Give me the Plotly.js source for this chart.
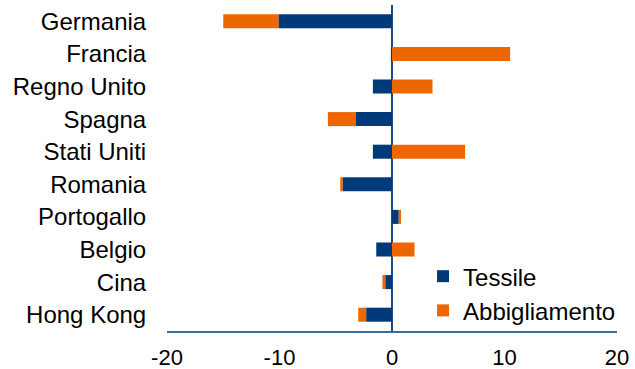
<!DOCTYPE html>
<html>
<head>
<meta charset="utf-8">
<script src="https://cdn.plot.ly/plotly-3.0.1.min.js"></script>
<style>html,body{margin:0;padding:0;background:#fff;}#chart{width:635px;height:369px;}</style>
</head>
<body>
<div id="chart"></div>
<script>
const categories = ["Germania","Francia","Regno Unito","Spagna","Stati Uniti","Romania","Portogallo","Belgio","Cina","Hong Kong"];
const tessile = [-10.1, -0.1, -1.7, -3.2, -1.7, -4.4, 0.6, -1.4, -0.6, -2.3];
const abbigliamento = [-4.9, 10.5, 3.6, -2.5, 6.5, -0.2, 0.2, 2.0, -0.25, -0.7];
const xTicks = [-20, -10, 0, 10, 20];

const fontFam = 'Arial, "Liberation Sans", sans-serif';
const data = [
  {type:'bar', orientation:'h', name:'Tessile', y:categories, x:tessile,
   marker:{color:'#003A7A'}, width:0.43},
  {type:'bar', orientation:'h', name:'Abbigliamento', y:categories, x:abbigliamento,
   marker:{color:'#EE6600'}, width:0.43}
];
const layout = {
  width:635, height:369,
  margin:{l:167, r:18, t:5, b:38, autoexpand:false},
  barmode:'relative',
  paper_bgcolor:'#fff', plot_bgcolor:'#fff',
  font:{family:fontFam, size:24, color:'#000'},
  showlegend:true,
  legend:{x:0.569, xref:'paper', xanchor:'left', y:0.236, yanchor:'top',
          traceorder:'normal', font:{size:24, family:fontFam}, bgcolor:'rgba(0,0,0,0)',
          itemwidth:30, tracegroupgap:0},
  xaxis:{range:[-20,20], tickvals:xTicks, ticktext:xTicks.map(String),
         showgrid:false, zeroline:true, zerolinecolor:'#1F4A85', zerolinewidth:2,
         showline:true, linecolor:'#3D6CA3', linewidth:1.5,
         ticks:'outside', ticklen:6, tickcolor:'rgba(0,0,0,0)',
         tickfont:{size:22}, fixedrange:true},
  yaxis:{autorange:'reversed', showgrid:false, zeroline:false, showline:false,
         ticks:'outside', ticklen:15, tickcolor:'rgba(0,0,0,0)',
         tickfont:{size:24}, fixedrange:true}
};
Plotly.newPlot('chart', data, layout, {displayModeBar:false, staticPlot:true});
</script>
</body>
</html>
